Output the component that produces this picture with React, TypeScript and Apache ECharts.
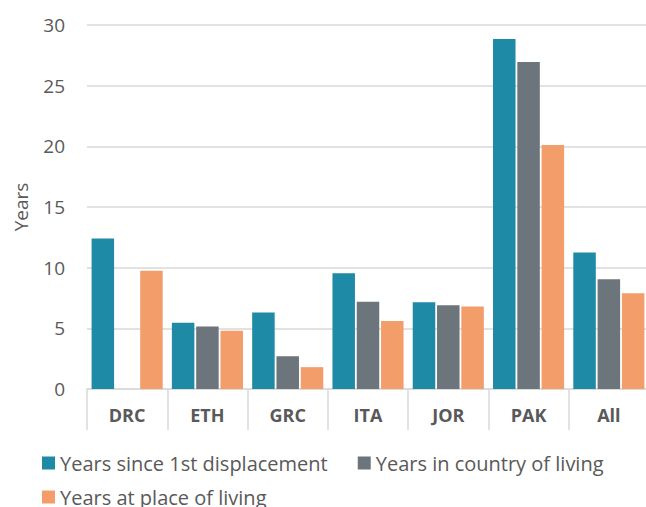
import React, { useEffect, useRef } from "react";
import * as echarts from "echarts";

const categories = ["DRC", "ETH", "GRC", "ITA", "JOR", "PAK", "All"];
const seriesNames = [
  "Years since 1st displacement",
  "Years in country of living",
  "Years at place of living",
];
const sinceDisplacement = [12.4, 5.45, 6.3, 9.55, 7.15, 28.85, 11.25];
const inCountry = [null, 5.15, 2.7, 7.2, 6.9, 26.95, 9.05];
const atPlace = [9.75, 4.8, 1.8, 5.6, 6.8, 20.1, 7.9];
const colors = ["#1F8AA6", "#6D757C", "#F29D6A"];

export default function App() {
  const ref = useRef<HTMLDivElement>(null);
  useEffect(() => {
    if (!ref.current) return;
    const chart = echarts.init(ref.current, null, { renderer: "svg" });
    const font = "'Open Sans', sans-serif";
    const textColor = "#595959";
    const data = [sinceDisplacement, inCountry, atPlace];
    const legendText = { fontSize: 20, color: textColor, fontFamily: font, lineHeight: 26 };
    chart.setOption({
      animation: false,
      textStyle: { fontFamily: font },
      grid: { left: 87, right: 0, top: 25, bottom: 118 },
      legend: [
        {
          data: [seriesNames[0], seriesNames[1]],
          left: 42,
          top: 450,
          padding: 0,
          itemGap: 30,
          icon: "rect",
          itemWidth: 13,
          itemHeight: 13,
          textStyle: legendText,
        },
        {
          data: [seriesNames[2]],
          left: 42,
          top: 484,
          padding: 0,
          icon: "rect",
          itemWidth: 13,
          itemHeight: 13,
          textStyle: legendText,
        },
      ],
      xAxis: {
        type: "category",
        data: categories,
        axisLine: { lineStyle: { color: "#D9D9D9", width: 1.5 } },
        axisTick: { show: true, length: 41, interval: 0, lineStyle: { color: "#D9D9D9", width: 1.5 } },
        axisLabel: {
          fontSize: 18,
          fontWeight: "bold",
          color: textColor,
          fontFamily: font,
          margin: 17,
          interval: 0,
        },
      },
      yAxis: {
        type: "value",
        min: 0,
        max: 30,
        interval: 5,
        name: "Years",
        nameLocation: "middle",
        nameRotate: 90,
        nameGap: 57,
        nameTextStyle: { fontSize: 19, color: textColor, fontFamily: font },
        axisLine: { show: false },
        axisTick: { show: false },
        axisLabel: { fontSize: 19, color: textColor, fontFamily: font, margin: 22 },
        splitLine: { lineStyle: { color: "#D9D9D9", width: 1.5 } },
      },
      series: seriesNames.map((name, i) => ({
        name,
        type: "bar",
        data: data[i],
        barWidth: 22.5,
        barGap: "8%",
        itemStyle: { color: colors[i] },
      })),
    });
    return () => chart.dispose();
  }, []);
  return (
    <div style={{ position: "absolute", left: 0, top: 0, width: 646, height: 507, overflow: "hidden", background: "#fff" }}>
      <div ref={ref} style={{ width: 649, height: 507 }} />
    </div>
  );
}
